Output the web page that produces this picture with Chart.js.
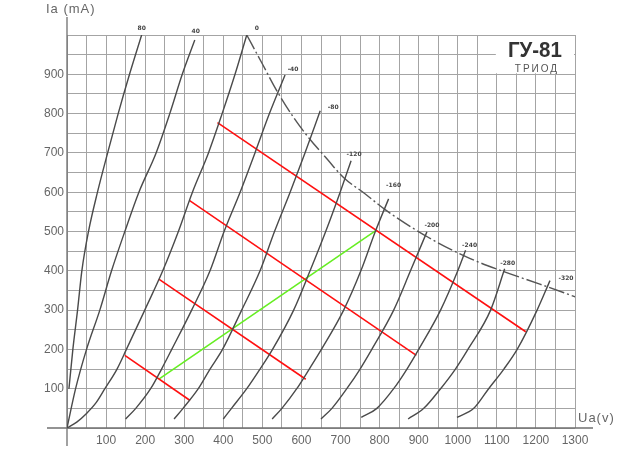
<!DOCTYPE html>
<html>
<head>
<meta charset="utf-8">
<script src="https://cdn.jsdelivr.net/npm/chart.js@4.4.0/dist/chart.umd.min.js"></script>
<style>
  html, body { margin: 0; padding: 0; background: #fff; }
</style>
</head>
<body>
<canvas id="chart" width="640" height="456"></canvas>
<script>
// grid bias of each anode curve (V)
const biasLabels = ['80', '40', '0', '-40', '-80', '-120', '-160', '-200', '-240', '-280', '-320'];

// anode characteristics, [Ua (V), Ia (mA)]
const curveP80 = [[5,100],[15,200],[27,300],[38,400],[55,500],[78,600],[104,700],[131,800],[160,900],[191,1000]];
const curveP40 = [[0,0],[22,100],[50,200],[84,300],[114,400],[148,500],[184,600],[228,700],[263,800],[295,900],[327,987]];
const curve0   = [[0,0],[25,15],[50,37],[75,65],[97,100],[128,150],[152,200],[199,300],[245,400],[285,500],[321,600],[362,700],[397,800],[430,900],[460,1000]];
const curveM40 = [[150,23],[176,50],[214,100],[242,150],[268,200],[319,300],[366,400],[402,500],[443,600],[481,700],[518,800],[558,898]];
const curveM80 = [[274,23],[297,50],[336,100],[366,150],[398,200],[447,300],[494,400],[531,500],[571,600],[609,700],[648,807]];
const curveM120 = [[400,23],[421,50],[460,100],[494,150],[526,200],[580,300],[622,400],[662,500],[699,600],[727,680]];
const curveM160 = [[525,23],[550,50],[588,100],[620,150],[651,200],[708,300],[752,400],[789,500],[823,583]];
const curveM200 = [[650,23],[678,50],[716,100],[750,150],[780,200],[836,300],[879,400],[921,499]];
const curveM240 = [[753,27],[793,50],[836,100],[870,150],[900,200],[956,300],[1000,400],[1020,452]];
const curveM280 = [[873,23],[913,50],[956,100],[994,150],[1026,200],[1084,300],[1120,405]];
const curveM320 = [[998,27],[1041,50],[1079,100],[1118,150],[1152,200],[1203,300],[1236,375]];

// max anode dissipation curve
const maxDissipation = [[460,1000],[498,930],[537,858],[580,790],[619,738],[665,685],[709,636],[760,598],[815,555],[923,486],[1032,431],[1118,398],[1210,366],[1303,333]];

// load lines and working line
const loadLine1 = [[385,777],[1174,245]];
const loadLine2 = [[313,579],[894,185]];
const loadLine3 = [[235,379],[611,124]];
const loadLine4 = [[148,185],[315,70]];
const workLine  = [[236,125],[790,502]];

const xTicks = [100, 200, 300, 400, 500, 600, 700, 800, 900, 1000, 1100, 1200, 1300];
const yTicks = [100, 200, 300, 400, 500, 600, 700, 800, 900];

const curves = [curveP80, curveP40, curve0, curveM40, curveM80, curveM120, curveM160, curveM200, curveM240, curveM280, curveM320];
// pixel offset of each bias label from the top end of its curve
const labelOffsets = [[0,-7],[1,-9],[10,-7],[8,-6],[13,-3],[3,-6],[5,-13],[5,-6],[4,-5],[3,-5],[16,-2]];

const toXY = arr => arr.map(p => ({x: p[0], y: p[1]}));

const datasets = curves.map((c, i) => ({
  label: biasLabels[i],
  data: toXY(c),
  borderColor: '#4a4a4a',
  borderWidth: 1.4,
  cubicInterpolationMode: 'monotone',
  isCurve: true
}));
datasets.push({
  label: 'Pa max',
  data: toXY(maxDissipation),
  borderColor: '#555',
  borderWidth: 1.4,
  borderDash: [16, 3, 2, 3],
  cubicInterpolationMode: 'monotone'
});
[loadLine1, loadLine2, loadLine3, loadLine4].forEach((l, i) => {
  datasets.push({ label: 'load' + i, data: toXY(l), borderColor: '#ff1010', borderWidth: 1.6 });
});
datasets.push({ label: 'work', data: toXY(workLine), borderColor: '#66ee22', borderWidth: 1.6 });

const decor = {
  id: 'decor',
  beforeDatasetsDraw(chart) {
    const {ctx, chartArea: a, scales: {x, y}} = chart;
    ctx.save();
    // blank title box in the top right cell block
    const bx = x.getPixelForValue(1100), by = y.getPixelForValue(900);
    ctx.fillStyle = '#fff';
    ctx.fillRect(bx - 1, a.top + 1, a.right - bx, by - a.top - 2);
    // extended axis lines
    ctx.strokeStyle = '#707070';
    ctx.lineWidth = 1.3;
    ctx.beginPath();
    ctx.moveTo(a.left, a.top - 18);
    ctx.lineTo(a.left, a.bottom + 18);
    ctx.moveTo(a.left - 20, a.bottom);
    ctx.lineTo(a.right + 18, a.bottom);
    ctx.stroke();
    // axis titles
    ctx.fillStyle = '#666';
    ctx.font = '13px "Liberation Sans"';
    ctx.textBaseline = 'middle';
    ctx.textAlign = 'left';
    ctx.letterSpacing = '1px';
    ctx.fillText('Ia (mA)', a.left - 21, a.top - 26);
    ctx.fillText('Ua(v)', a.right + 3, a.bottom - 10);
    ctx.restore();
  },
  afterDatasetsDraw(chart) {
    const {ctx} = chart;
    ctx.save();
    ctx.fillStyle = '#444';
    ctx.font = 'bold 6px "DejaVu Sans"';
    ctx.textAlign = 'center';
    ctx.textBaseline = 'middle';
    chart.data.datasets.forEach((ds, i) => {
      if (!ds.isCurve) return;
      const pts = chart.getDatasetMeta(i).data;
      const end = pts[pts.length - 1];
      const off = labelOffsets[i];
      ctx.fillText(ds.label, end.x + off[0], end.y + off[1]);
    });
    // tube name
    const {scales: {x, y}} = chart;
    const cx = x.getPixelForValue(1200);
    ctx.fillStyle = '#333';
    ctx.font = 'bold 22px "Liberation Sans"';
    ctx.fillText('ГУ-81', cx - 1, y.getPixelForValue(960), 54);
    ctx.fillStyle = '#555';
    ctx.font = '10px "Liberation Sans"';
    ctx.letterSpacing = '2px';
    ctx.fillText('ТРИОД', cx + 1, y.getPixelForValue(912));
    ctx.restore();
  }
};

new Chart(document.getElementById('chart'), {
  type: 'scatter',
  data: { datasets },
  options: {
    responsive: false,
    animation: false,
    showLine: true,
    layout: { padding: { left: 0, top: 35, right: 65, bottom: 0 } },
    elements: { point: { radius: 0 } },
    plugins: { legend: { display: false }, tooltip: { enabled: false } },
    scales: {
      x: {
        type: 'linear', min: 0, max: 1300,
        afterFit(s) { s.height = 28; },
        afterBuildTicks(s) {
          const t = [];
          for (let v = 0; v <= 1300; v += 50) t.push({value: v});
          s.ticks = t;
        },
        border: { display: false },
        grid: { color: '#a4a4a4', lineWidth: 1, drawTicks: false },
        ticks: {
          autoSkip: false, maxRotation: 0, padding: 5,
          color: '#666', font: { family: 'Liberation Sans', size: 12 },
          callback: v => xTicks.includes(v) ? String(v) : ''
        }
      },
      y: {
        type: 'linear', min: 0, max: 1000,
        afterFit(s) { s.width = 67; },
        afterBuildTicks(s) {
          const t = [];
          for (let v = 0; v <= 1000; v += 50) t.push({value: v});
          s.ticks = t;
        },
        border: { display: false },
        grid: { color: '#a4a4a4', lineWidth: 1, drawTicks: false },
        ticks: {
          autoSkip: false, padding: 3,
          color: '#666', font: { family: 'Liberation Sans', size: 12 },
          callback: v => yTicks.includes(v) ? String(v) : ''
        }
      }
    }
  },
  plugins: [decor]
});
</script>
</body>
</html>
